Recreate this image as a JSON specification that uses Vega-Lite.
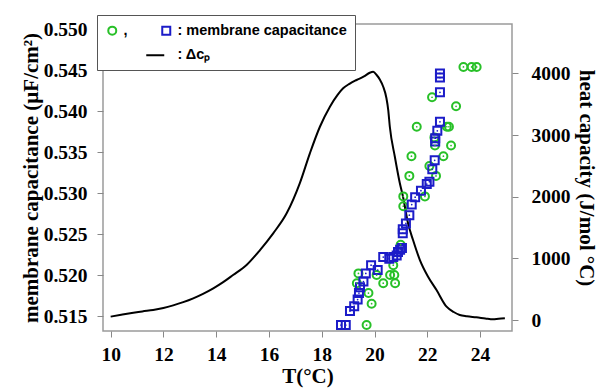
{
  "$schema": "https://vega.github.io/schema/vega-lite/v6.json",
  "width": 409,
  "height": 307,
  "autosize": {"type": "none"},
  "padding": {"left": 103, "top": 24, "right": 91, "bottom": 59},
  "background": "white",
  "config": {
    "view": {"stroke": "#9a9a9a", "strokeWidth": 1.5},
    "axis": {
      "domain": false,
      "grid": false,
      "labelFont": "Liberation Serif",
      "labelFontWeight": "bold",
      "labelFontSize": 19.5,
      "labelColor": "#000000",
      "titleFont": "Liberation Serif",
      "titleFontWeight": "bold",
      "titleFontSize": 21,
      "titleColor": "#000000",
      "tickColor": "#888888",
      "tickSize": 6,
      "tickWidth": 1
    }
  },
  "datasets": {
    "heatcapacity": [
      {"T": 10.0, "cp": 55}, {"T": 10.4, "cp": 85}, {"T": 10.86, "cp": 118}, {"T": 11.2, "cp": 140},
      {"T": 11.61, "cp": 162}, {"T": 12.0, "cp": 195}, {"T": 12.37, "cp": 238}, {"T": 12.75, "cp": 290},
      {"T": 13.13, "cp": 352}, {"T": 13.5, "cp": 425}, {"T": 13.89, "cp": 514}, {"T": 14.25, "cp": 610},
      {"T": 14.64, "cp": 730}, {"T": 15.15, "cp": 892}, {"T": 15.66, "cp": 1135}, {"T": 16.16, "cp": 1406},
      {"T": 16.67, "cp": 1730}, {"T": 17.17, "cp": 2220}, {"T": 17.55, "cp": 2703}, {"T": 17.93, "cp": 3134},
      {"T": 18.31, "cp": 3459}, {"T": 18.6, "cp": 3650}, {"T": 18.81, "cp": 3757}, {"T": 19.05, "cp": 3830},
      {"T": 19.32, "cp": 3892}, {"T": 19.6, "cp": 3950},
      {"T": 19.82, "cp": 4010}, {"T": 19.95, "cp": 4025}, {"T": 20.08, "cp": 3973}, {"T": 20.2, "cp": 3900},
      {"T": 20.33, "cp": 3783}, {"T": 20.45, "cp": 3600}, {"T": 20.52, "cp": 3405}, {"T": 20.58, "cp": 3134},
      {"T": 20.77, "cp": 2648}, {"T": 20.96, "cp": 2217}, {"T": 21.08, "cp": 1999}, {"T": 21.27, "cp": 1568},
      {"T": 21.46, "cp": 1297}, {"T": 21.72, "cp": 973}, {"T": 22.03, "cp": 702}, {"T": 22.35, "cp": 486},
      {"T": 22.73, "cp": 216}, {"T": 23.0, "cp": 130}, {"T": 23.23, "cp": 81}, {"T": 23.5, "cp": 60},
      {"T": 23.86, "cp": 44}, {"T": 24.2, "cp": 25}, {"T": 24.49, "cp": 11}, {"T": 24.7, "cp": 20},
      {"T": 24.94, "cp": 28}
    ],
    "capacitance": [
      {"series": "circles", "T": 19.70, "C": 0.5139},
      {"series": "circles", "T": 19.89, "C": 0.5165},
      {"series": "circles", "T": 19.77, "C": 0.5178},
      {"series": "circles", "T": 19.33, "C": 0.5190},
      {"series": "circles", "T": 19.39, "C": 0.5202},
      {"series": "circles", "T": 20.08, "C": 0.5200},
      {"series": "circles", "T": 20.33, "C": 0.5190},
      {"series": "circles", "T": 20.59, "C": 0.5200},
      {"series": "circles", "T": 20.75, "C": 0.5200},
      {"series": "circles", "T": 20.78, "C": 0.5190},
      {"series": "circles", "T": 20.71, "C": 0.5212},
      {"series": "circles", "T": 20.99, "C": 0.5237},
      {"series": "circles", "T": 21.09, "C": 0.5284},
      {"series": "circles", "T": 21.09, "C": 0.5296},
      {"series": "circles", "T": 21.91, "C": 0.5296},
      {"series": "circles", "T": 21.32, "C": 0.5321},
      {"series": "circles", "T": 22.33, "C": 0.5321},
      {"series": "circles", "T": 22.08, "C": 0.5333},
      {"series": "circles", "T": 21.40, "C": 0.5345},
      {"series": "circles", "T": 22.61, "C": 0.5345},
      {"series": "circles", "T": 22.90, "C": 0.5358},
      {"series": "circles", "T": 22.29, "C": 0.5358},
      {"series": "circles", "T": 22.27, "C": 0.5368},
      {"series": "circles", "T": 21.60, "C": 0.5381},
      {"series": "circles", "T": 22.74, "C": 0.5381},
      {"series": "circles", "T": 22.82, "C": 0.5381},
      {"series": "circles", "T": 23.09, "C": 0.5406},
      {"series": "circles", "T": 22.18, "C": 0.5417},
      {"series": "circles", "T": 23.37, "C": 0.5454},
      {"series": "circles", "T": 23.68, "C": 0.5454},
      {"series": "circles", "T": 23.87, "C": 0.5454},
      {"series": "squares", "T": 18.73, "C": 0.5139},
      {"series": "squares", "T": 18.91, "C": 0.5139},
      {"series": "squares", "T": 19.07, "C": 0.5156},
      {"series": "squares", "T": 19.23, "C": 0.5162},
      {"series": "squares", "T": 19.36, "C": 0.5170},
      {"series": "squares", "T": 19.41, "C": 0.5178},
      {"series": "squares", "T": 19.45, "C": 0.5185},
      {"series": "squares", "T": 19.58, "C": 0.5192},
      {"series": "squares", "T": 19.67, "C": 0.5202},
      {"series": "squares", "T": 19.87, "C": 0.5212},
      {"series": "squares", "T": 20.12, "C": 0.5206},
      {"series": "squares", "T": 20.33, "C": 0.5222},
      {"series": "squares", "T": 20.56, "C": 0.5220},
      {"series": "squares", "T": 20.71, "C": 0.5222},
      {"series": "squares", "T": 20.84, "C": 0.5224},
      {"series": "squares", "T": 20.89, "C": 0.5228},
      {"series": "squares", "T": 20.97, "C": 0.5231},
      {"series": "squares", "T": 21.04, "C": 0.5233},
      {"series": "squares", "T": 21.07, "C": 0.5251},
      {"series": "squares", "T": 21.07, "C": 0.5256},
      {"series": "squares", "T": 21.19, "C": 0.5263},
      {"series": "squares", "T": 21.32, "C": 0.5273},
      {"series": "squares", "T": 21.41, "C": 0.5286},
      {"series": "squares", "T": 21.54, "C": 0.5295},
      {"series": "squares", "T": 21.76, "C": 0.5303},
      {"series": "squares", "T": 21.98, "C": 0.5311},
      {"series": "squares", "T": 22.08, "C": 0.5314},
      {"series": "squares", "T": 22.19, "C": 0.5329},
      {"series": "squares", "T": 22.28, "C": 0.5340},
      {"series": "squares", "T": 22.30, "C": 0.5363},
      {"series": "squares", "T": 22.30, "C": 0.5367},
      {"series": "squares", "T": 22.38, "C": 0.5376},
      {"series": "squares", "T": 22.48, "C": 0.5387},
      {"series": "squares", "T": 22.48, "C": 0.5423},
      {"series": "squares", "T": 22.48, "C": 0.5441},
      {"series": "squares", "T": 22.48, "C": 0.5446}
    ]
  },
  "layer": [
    {
      "data": {"name": "heatcapacity"},
      "mark": {"type": "line", "color": "#000000", "strokeWidth": 2, "interpolate": "monotone"},
      "encoding": {
        "x": {"field": "T", "type": "quantitative"},
        "y": {
          "field": "cp",
          "type": "quantitative",
          "scale": {"domain": [-178, 4800], "nice": false, "zero": false},
          "axis": {"orient": "right", "title": "heat capacity (J/mol °C)", "values": [0, 1000, 2000, 3000, 4000], "format": "d", "labelPadding": 13, "titlePadding": 5}
        }
      }
    },
    {
      "data": {"name": "capacitance"},
      "layer": [
        {
          "mark": {"type": "point", "filled": false, "strokeWidth": 2, "size": 64, "opacity": 1},
          "encoding": {
            "x": {
              "field": "T",
              "type": "quantitative",
              "scale": {"domain": [9.71, 25.21], "nice": false, "zero": false},
              "axis": {"title": "T(°C)", "values": [10, 12, 14, 16, 18, 20, 22, 24], "labelPadding": 8, "titlePadding": 2}
            },
            "y": {
              "field": "C",
              "type": "quantitative",
              "scale": {"domain": [0.51317, 0.55064], "nice": false, "zero": false},
              "axis": {"orient": "left", "title": "membrane capacitance (µF/cm²)", "values": [0.515, 0.52, 0.525, 0.53, 0.535, 0.54, 0.545, 0.55], "format": ".3f", "labelPadding": 10, "titlePadding": 2}
            },
            "color": {
              "field": "series",
              "type": "nominal",
              "scale": {"domain": ["circles", "squares", "blank", "heat capacity"], "range": ["#28c028", "#1c1cc8", "#ffffff", "#000000"]},
              "legend": {
                "title": null, "orient": "none", "legendX": -6, "legendY": -9, "direction": "horizontal",
                "columns": 2, "columnPadding": 14, "rowPadding": 8,
                "padding": 8, "fillColor": "white", "strokeColor": "#555555",
                "symbolSize": 64, "symbolStrokeWidth": 2, "labelLimit": 400,
                "labelFont": "Liberation Sans", "labelFontWeight": "bold", "labelFontSize": 14.5, "labelColor": "#000000",
                "labelExpr": "datum.value === 'circles' ? ',' : datum.value === 'squares' ? ': membrane capacitance' : datum.value === 'blank' ? '' : ': Δcₚ'"
              }
            },
            "shape": {
              "field": "series",
              "type": "nominal",
              "scale": {"domain": ["circles", "squares", "blank", "heat capacity"], "range": ["circle", "square", "M0,0", "M-5,0H-0.5"]},
              "legend": {
                "title": null, "orient": "none", "legendX": -6, "legendY": -9, "direction": "horizontal",
                "columns": 2, "columnPadding": 14, "rowPadding": 8,
                "padding": 8, "fillColor": "white", "strokeColor": "#555555",
                "symbolSize": 64, "symbolStrokeWidth": 2, "labelLimit": 400,
                "labelFont": "Liberation Sans", "labelFontWeight": "bold", "labelFontSize": 14.5, "labelColor": "#000000",
                "labelExpr": "datum.value === 'circles' ? ',' : datum.value === 'squares' ? ': membrane capacitance' : datum.value === 'blank' ? '' : ': Δcₚ'"
              }
            }
          }
        },
        {
          "transform": [{"filter": "datum.series === 'circles'"}],
          "mark": {"type": "point", "filled": true, "size": 3, "color": "#28c028", "opacity": 1},
          "encoding": {
            "x": {"field": "T", "type": "quantitative"},
            "y": {"field": "C", "type": "quantitative"}
          }
        },
        {
          "transform": [{"filter": "datum.series === 'squares'"}],
          "mark": {"type": "point", "filled": true, "size": 3, "color": "#1c1cc8", "opacity": 1},
          "encoding": {
            "x": {"field": "T", "type": "quantitative"},
            "y": {"field": "C", "type": "quantitative"}
          }
        }
      ]
    }
  ],
  "resolve": {"scale": {"y": "independent"}, "axis": {"y": "independent"}}
}
